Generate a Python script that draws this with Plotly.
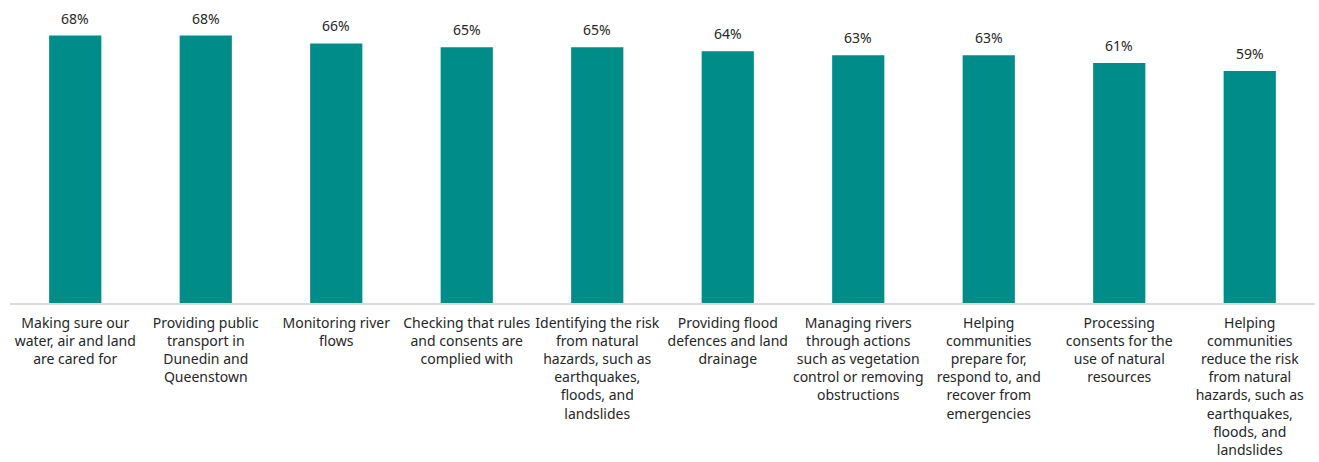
import plotly.graph_objects as go

# Services and the share of respondents rating each one
services = [
    "Making sure our<br>water, air and land<br>are cared for",
    "Providing public<br>transport in<br>Dunedin and<br>Queenstown",
    "Monitoring river<br>flows",
    "Checking that rules<br>and consents are<br>complied with",
    "Identifying the risk<br>from natural<br>hazards, such as<br>earthquakes,<br>floods, and<br>landslides",
    "Providing flood<br>defences and land<br>drainage",
    "Managing rivers<br>through actions<br>such as vegetation<br>control or removing<br>obstructions",
    "Helping<br>communities<br>prepare for,<br>respond to, and<br>recover from<br>emergencies",
    "Processing<br>consents for the<br>use of natural<br>resources",
    "Helping<br>communities<br>reduce the risk<br>from natural<br>hazards, such as<br>earthquakes,<br>floods, and<br>landslides",
]
percent = [68, 68, 66, 65, 65, 64, 63, 63, 61, 59]

positions = list(range(len(services)))
text_color = "#262626"

fig = go.Figure(
    go.Bar(
        x=positions,
        y=percent,
        marker=dict(color="#008C88", line=dict(width=0)),
        hoverinfo="skip",
    )
)

# Percentage labels above each bar
for xi, v in zip(positions, percent):
    fig.add_annotation(
        x=xi,
        y=v,
        text=f"{v}%",
        showarrow=False,
        yanchor="bottom",
        yshift=6,
        font=dict(size=14, color=text_color, family="Noto Sans"),
    )

fig.update_layout(
    width=1319,
    height=462,
    margin=dict(l=10, r=4, t=10, b=159),
    paper_bgcolor="white",
    plot_bgcolor="white",
    bargap=0.6,
    showlegend=False,
    font=dict(family="Noto Sans", size=14, color=text_color),
    xaxis=dict(
        tickmode="array",
        tickvals=positions,
        ticktext=services,
        range=[-0.5, len(services) - 0.5],
        showline=True,
        linecolor="#D9D9D9",
        linewidth=1.5,
        showgrid=False,
        ticks="",
        tickangle=0,
        ticklabelstandoff=6,
        tickfont=dict(size=14, color=text_color),
    ),
    yaxis=dict(
        range=[0, 74.5],
        visible=False,
        showgrid=False,
    ),
)

fig.write_html("out.html")
